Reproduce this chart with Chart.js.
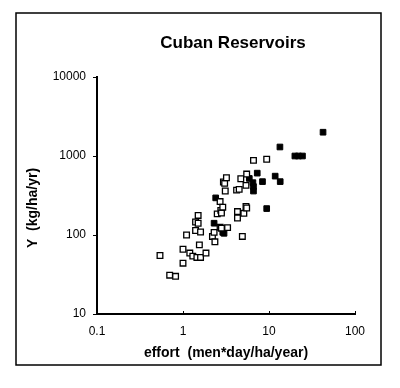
<!DOCTYPE html>
<html>
<head>
<meta charset="utf-8">
<script src="https://cdn.jsdelivr.net/npm/chart.js@4/dist/chart.umd.min.js"></script>
<style>
	body { margin: 0; background: #fff; }
	canvas { display: block; }
</style>
</head>
<body>
<canvas id="chart" width="400" height="388"></canvas>
<script>
// Values (effort in men*day/ha/year, Y in kg/ha/yr).
const openEffort = [0.54, 0.70, 0.82, 1.0, 1.0, 1.1, 1.2, 1.3, 1.4, 1.4, 1.5, 1.5, 1.45, 1.6, 1.55, 1.6, 1.85,
	2.2, 2.3, 2.35, 2.5, 2.7, 2.75, 2.8, 2.9, 2.7, 2.8, 3.3, 2.95, 3.05, 3.1, 3.2, 4.2, 4.5, 4.3, 4.3,
	4.7, 4.9, 5.1, 5.4, 5.5, 5.4, 5.5, 6.6, 9.4];
const openYield = [55, 31, 30, 44, 66, 100, 59, 54, 146, 114, 177, 141, 52, 52, 75, 109, 59,
	96, 108, 82, 185, 265, 205, 190, 225, 125, 122, 124, 470, 450, 360, 530, 370, 378, 198, 164,
	515, 96, 188, 425, 590, 230, 220, 880, 910];

const filledEffort = [2.4, 2.3, 2.9, 3.0, 5.9, 6.5, 6.6, 6.6, 7.3, 8.4, 9.4, 11.8, 13.5, 13.4, 20, 22, 24.5, 42.5];
const filledYield = [295, 141, 108, 105, 520, 460, 410, 360, 607, 474, 216, 556, 474, 1300, 1000, 1000, 1000, 2000];

const xTicks = [0.1, 1, 10, 100];
const yTicks = [10, 100, 1000, 10000];

const TITLE = 'Cuban Reservoirs';
const X_TITLE = 'effort  (men*day/ha/year)';
const Y_TITLE = 'Y  (kg/ha/yr)';

const FONT = "'Liberation Sans', Arial, Helvetica, sans-serif";
Chart.defaults.font.family = FONT;
Chart.defaults.color = '#000';

function toPoints(xs, ys) {
	return xs.map((x, i) => ({ x: x, y: ys[i] }));
}

// Frame round the figure, main title and the y title.
const decorPlugin = {
	id: 'decor',
	afterDraw(chart) {
		const ctx = chart.ctx;
		ctx.save();
		ctx.strokeStyle = '#000';
		ctx.lineWidth = 1.5;
		ctx.strokeRect(16, 13, 365, 352);

		ctx.fillStyle = '#000';
		ctx.textAlign = 'center';
		ctx.textBaseline = 'middle';
		ctx.font = `bold 17px ${FONT}`;
		ctx.fillText(TITLE, 233, 43);

		ctx.translate(33, 208);
		ctx.rotate(-Math.PI / 2);
		ctx.font = `bold 14px ${FONT}`;
		ctx.fillText(Y_TITLE, 0, 0);
		ctx.restore();
	}
};

const ctx = document.getElementById('chart').getContext('2d');
new Chart(ctx, {
	type: 'scatter',
	data: {
		datasets: [{
			label: 'open',
			data: toPoints(openEffort, openYield),
			pointStyle: 'rect',
			radius: 4,
			backgroundColor: '#fff',
			borderColor: '#000',
			borderWidth: 1.3,
		}, {
			label: 'filled',
			data: toPoints(filledEffort, filledYield),
			pointStyle: 'rect',
			radius: 4,
			backgroundColor: '#000',
			borderColor: '#000',
			borderWidth: 1,
		}]
	},
	options: {
		responsive: false,
		animation: false,
		layout: {
			padding: { left: 0, top: 77, right: 45, bottom: 0 }
		},
		scales: {
			x: {
				type: 'logarithmic',
				min: 0.1,
				max: 100,
				afterBuildTicks: scale => { scale.ticks = xTicks.map(v => ({ value: v })); },
				afterFit: scale => { scale.height = 74; },
				ticks: {
					font: { size: 12 },
					padding: 13,
					maxRotation: 0,
					callback: v => String(v)
				},
				// negative length: tick marks point up into the plot, as in the original
				grid: { drawOnChartArea: false, color: '#000', tickLength: -3, lineWidth: 1 },
				border: { color: '#000', width: 2 },
				title: {
					display: true,
					text: X_TITLE,
					font: { size: 14, weight: 'bold' },
					padding: { top: 4, bottom: 26 }
				}
			},
			y: {
				type: 'logarithmic',
				min: 10,
				max: 10000,
				afterBuildTicks: scale => { scale.ticks = yTicks.map(v => ({ value: v })); },
				afterFit: scale => { scale.width = 97; },
				ticks: {
					font: { size: 12 },
					padding: 7,
					callback: v => String(v)
				},
				grid: { drawOnChartArea: false, color: '#000', tickLength: 4, lineWidth: 1 },
				border: { color: '#000', width: 2 }
			}
		},
		plugins: {
			legend: { display: false },
			tooltip: { enabled: false }
		}
	},
	plugins: [decorPlugin]
});
</script>
</body>
</html>
